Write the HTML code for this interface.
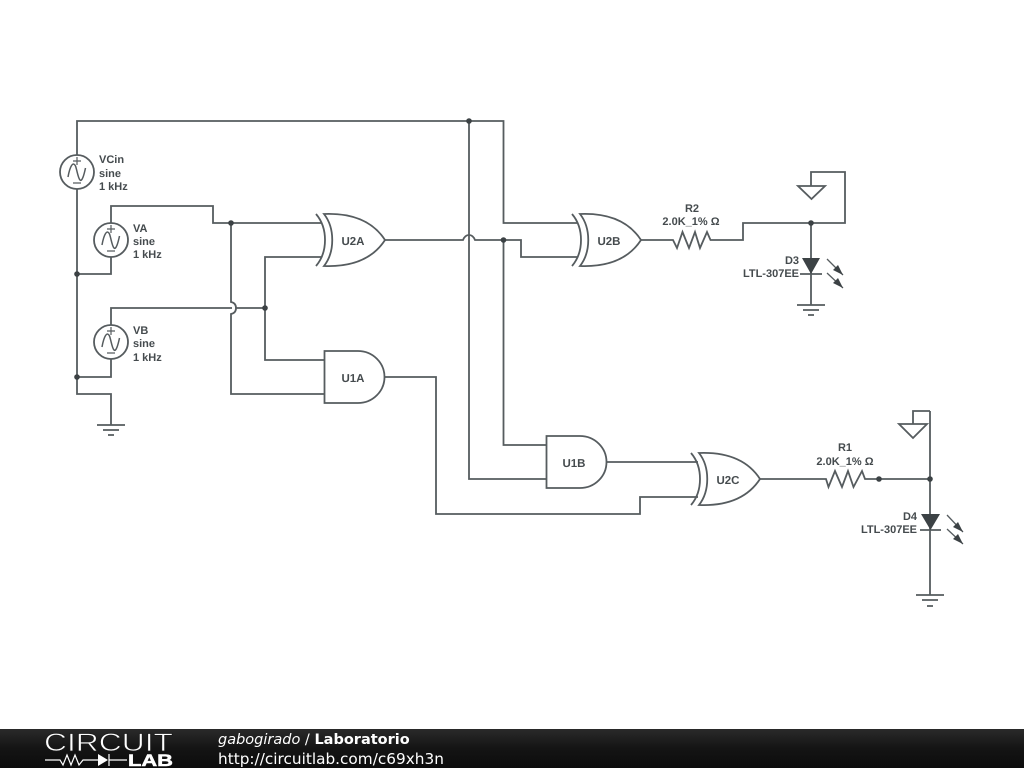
<!DOCTYPE html>
<html><head><meta charset="utf-8"><style>
html,body{margin:0;padding:0;background:#fff;width:1024px;height:768px;overflow:hidden}
svg{display:block}
.w{fill:none;stroke:#565c5f;stroke-width:1.8}
.t{font-family:"Liberation Sans",sans-serif;font-weight:bold;font-size:11px;fill:#454b4e;text-rendering:geometricPrecision}
.g{font-family:"Liberation Sans",sans-serif;font-weight:bold;font-size:11.500px;fill:#454b4e;text-anchor:middle;text-rendering:geometricPrecision}
.f{font-family:"DejaVu Sans",sans-serif;font-size:14.500px;fill:#fff}
</style></head><body>
<svg width="1024" height="768" viewBox="0 0 1024 768" xmlns="http://www.w3.org/2000/svg">
<defs>
<linearGradient id="bar" x1="0" y1="0" x2="0" y2="1"><stop offset="0" stop-color="#2a2a2a"/><stop offset="0.5" stop-color="#141414"/><stop offset="1" stop-color="#0c0c0c"/></linearGradient>
</defs>
<rect width="1024" height="768" fill="#fff"/>
<g class="w">
<!-- wires -->
<path d="M77 155V121H503.500V223H578"/>
<path d="M77 189V394H111V425"/>
<path d="M469 121V479H546"/>
<path d="M111 223V206H213V223H322"/>
<path d="M111 257V274H77"/>
<path d="M231 223V302Q236 303 236 308Q236 313 231 314V394H324"/>
<path d="M111 325V308H232M236 308H265"/>
<path d="M322 257H265V360H324"/>
<path d="M111 359V377H77"/>
<path d="M385 240H463Q465 235 469 235Q473 235 475 240H521V257H578"/>
<path d="M503.500 240V445H546"/>
<path d="M385 377H436V514H640V497H698"/>
<path d="M607 462H698"/>
<path d="M641 240H673L677 248L682.500 232L689 248L695 232L700 248L707 232L710.500 240H743V223H845V172H811V186"/>
<path d="M811 223V305"/>
<path d="M760 479H826L828.500 487L835 471L842 487L848 471L853.500 487L862 471L865 479H930"/>
<path d="M930 411V595M930 411H913V424"/>
<!-- grounds -->
<path d="M97 425H125M103 430H119M108 435H114"/>
<path d="M797 305H825M803 310H819M808 315H814"/>
<path d="M916 595H944M922 600H938M927 606H933"/>
<!-- signal ports -->
<path d="M798 186H825L811.500 199Z"/>
<path d="M899 424H927L913 438Z"/>
<!-- sources -->
<circle cx="77" cy="172" r="17"/>
<circle cx="111" cy="240" r="17"/>
<circle cx="111" cy="342" r="17"/>
<path d="M68 177C70 166 73 161 75.500 166C77 170 78 178 80 180C82 182 84 175 85.500 168" stroke-width="1.500"/>
<path d="M102 245C104 234 107 229 109.500 234C111 238 112 246 114 248C116 250 118 243 119.500 236" stroke-width="1.500"/>
<path d="M102 347C104 336 107 331 109.500 336C111 340 112 348 114 350C116 352 118 345 119.500 338" stroke-width="1.500"/>
<path d="M73 161H81M77 157V165M73 183H81" stroke-width="1.200"/>
<path d="M107 229H115M111 225V233M107 251H115" stroke-width="1.200"/>
<path d="M107 331H115M111 327V335M107 353H115" stroke-width="1.200"/>
<!-- XOR gates -->
<path d="M316 214C328 228 328 252 316 266"/>
<path d="M324 214C335 228 335 252 324 266C350 267 372 260 385 240C372 220 350 213 324 214Z" fill="#fff"/>
<path d="M572 214C584 228 584 252 572 266"/>
<path d="M580 214C591 228 591 252 580 266C606 267 628 260 641 240C628 220 606 213 580 214Z" fill="#fff"/>
<path d="M691 453C703 467 703 491 691 505"/>
<path d="M699 453C710 467 710 491 699 505C725 506 747 499 760 479C747 459 725 452 699 453Z" fill="#fff"/>
<!-- AND gates -->
<path d="M324.500 351H358A26.500 26 0 0 1 358 403H324.500Z" fill="#fff"/>
<path d="M546.500 436H580A26.500 26 0 0 1 580 488H546.500Z" fill="#fff"/>
<!-- LED bars, arrows -->
<path d="M800 274H822M920 530H941"/>
<path d="M827 259L843 275M827 273L843 288M947 515L963 532M947 529L963 544" stroke-width="1.300"/>
</g>
<g fill="#3c4245">
<circle cx="469" cy="121" r="2.800"/><circle cx="77" cy="274" r="2.800"/><circle cx="77" cy="377" r="2.800"/>
<circle cx="231" cy="223" r="2.800"/><circle cx="265" cy="308" r="2.800"/><circle cx="503.500" cy="240" r="2.800"/>
<circle cx="811" cy="223" r="2.800"/><circle cx="879" cy="479" r="2.800"/><circle cx="930" cy="479" r="2.800"/>
<path d="M802 258H820L811 274Z"/><path d="M921 514H940L930.500 530Z"/>
<path d="M843 275L833 270L838 265ZM843 288L833 283L838 278ZM963 532L953 527L958 522ZM963 544L953 539L958 534Z"/>
</g>
<g class="t">
<text x="99" y="163">VCin</text><text x="99" y="177">sine</text><text x="99" y="190">1 kHz</text>
<text x="133" y="232">VA</text><text x="133" y="245">sine</text><text x="133" y="258">1 kHz</text>
<text x="133" y="334">VB</text><text x="133" y="347">sine</text><text x="133" y="361">1 kHz</text>
<text x="692" y="212" text-anchor="middle">R2</text><text x="691" y="225" text-anchor="middle">2.0K_1% Ω</text>
<text x="845" y="451" text-anchor="middle">R1</text><text x="845" y="465" text-anchor="middle">2.0K_1% Ω</text>
<text x="799" y="264" text-anchor="end">D3</text><text x="799" y="277" text-anchor="end">LTL-307EE</text>
<text x="917" y="520" text-anchor="end">D4</text><text x="917" y="533" text-anchor="end">LTL-307EE</text>
</g>
<text class="g" x="353" y="245">U2A</text>
<text class="g" x="609" y="245">U2B</text>
<text class="g" x="728" y="484">U2C</text>
<text class="g" x="353" y="382">U1A</text>
<text class="g" x="574" y="467">U1B</text>
<!-- footer -->
<rect x="0" y="729" width="1024" height="39" fill="url(#bar)"/>
<text x="44" y="751" font-family="'Liberation Sans',sans-serif" font-size="25" fill="#fff" stroke="#1c1c1c" stroke-width="0.700" textLength="129" lengthAdjust="spacingAndGlyphs">CIRCUIT</text>
<text x="128" y="766" font-family="'Liberation Sans',sans-serif" font-weight="bold" font-size="16.500" fill="#fff" stroke="#fff" stroke-width="0.500" textLength="45" lengthAdjust="spacingAndGlyphs">LAB</text>
<path d="M45 760H60L63 765L67 755L71 765L75 755L79 765L83 760H98M109 760H127M109 754V766" fill="none" stroke="#fff" stroke-width="1.200"/>
<path d="M98 754L108 760L98 766Z" fill="#fff"/>
<text class="f" x="218" y="744"><tspan font-style="italic">gabogirado</tspan> / <tspan font-weight="bold">Laboratorio</tspan></text>
<text class="f" x="218" y="764" style="font-size:15.300px">http://circuitlab.com/c69xh3n</text>
</svg>
</body></html>
